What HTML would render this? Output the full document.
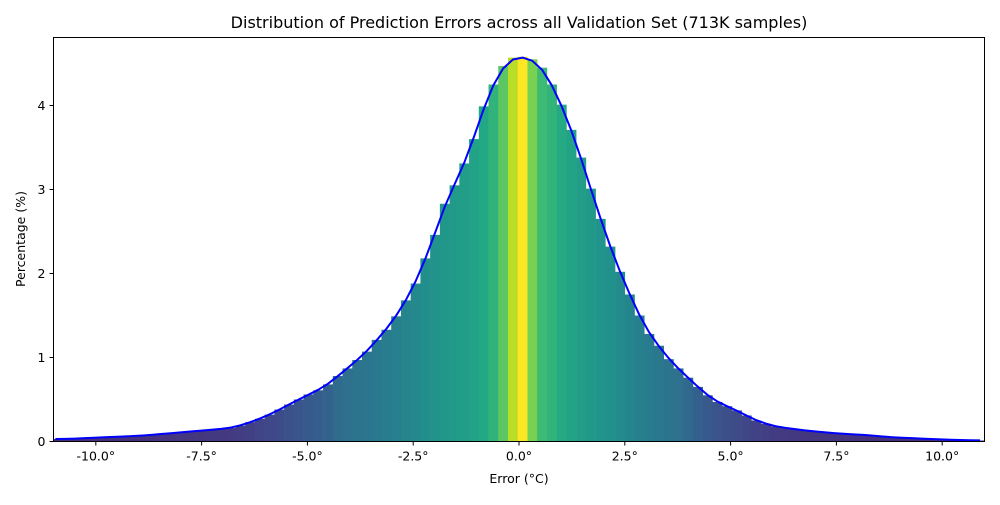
<!DOCTYPE html>
<html><head><meta charset="utf-8"><style>
body{margin:0;background:#fff;}
svg text{font-family:"DejaVu Sans","Liberation Sans",sans-serif;fill:#000;}
</style></head><body>
<svg id="chart" width="1000" height="500" viewBox="0 0 1000 500" xmlns="http://www.w3.org/2000/svg">
<rect width="1000" height="500" fill="#fff"/>
<text x="519" y="28" font-size="16" text-anchor="middle">Distribution of Prediction Errors across all Validation Set (713K samples)</text>
<g id="bars"></g>
<g id="line"></g>
<rect x="53.5" y="37.5" width="931" height="404" fill="none" stroke="#000" stroke-width="1"/>
<g id="xt"></g>
<g id="yt"></g>
<text x="519" y="483" font-size="12.5" text-anchor="middle">Error (°C)</text>
<text x="25" y="239" font-size="12.5" text-anchor="middle" transform="rotate(-90 25 239)">Percentage (%)</text>
</svg>
<script>
const binStart = -0.03;
const binWidth = 0.23;
const firstBinIndex = -48;
const heights = [0.03,0.03,0.035,0.04,0.045,0.05,0.055,0.06,0.065,0.07,0.08,0.09,0.1,0.11,0.12,0.13,0.14,0.15,0.16,0.19,0.23,0.27,0.32,0.38,0.44,0.5,0.56,0.61,0.68,0.78,0.87,0.97,1.07,1.21,1.33,1.49,1.68,1.88,2.18,2.46,2.83,3.05,3.31,3.6,3.99,4.25,4.47,4.57,
4.58,4.55,4.45,4.25,4.01,3.71,3.38,3.01,2.65,2.32,2.02,1.75,1.5,1.28,1.14,0.98,0.87,0.76,0.65,0.55,0.47,0.42,0.37,0.31,0.25,0.21,0.18,0.16,0.15,0.13,0.12,0.11,0.1,0.09,0.085,0.08,0.07,0.06,0.05,0.045,0.04,0.035,0.03,0.025,0.02,0.018,0.015,0.012];
const xTicks = [-10,-7.5,-5,-2.5,0,2.5,5,7.5,10];
const xTickLabels = ["-10.0°","-7.5°","-5.0°","-2.5°","0.0°","2.5°","5.0°","7.5°","10.0°"];
const yTicks = [0,1,2,3,4];

const X0=53.5,X1=984.5,Y0=441.5,Y1=37.5, xmin=-11, xmax=11, ymax=(441-37)/84;
const sx=v=>X0+(v-xmin)/(xmax-xmin)*(X1-X0);
const sy=v=>Y0-v/ymax*(Y0-Y1);
const NS="http://www.w3.org/2000/svg";
const vir=["#440154","#482475","#414487","#355f8d","#2a788e","#21918c","#22a884","#44bf70","#7ad151","#bddf26","#fde725"];
function hex(c){return [1,3,5].map(i=>parseInt(c.substr(i,2),16));}
function viridis(t){t=Math.max(0,Math.min(1,t));const p=t*10,i=Math.min(9,Math.floor(p)),f=p-i;const a=hex(vir[i]),b=hex(vir[i+1]);return "rgb("+a.map((v,k)=>Math.round(v+(b[k]-v)*f)).join(",")+")";}
const kn=[[0,0.12],[0.02,0.15],[0.2,0.38],[0.5,0.5],[0.72,0.55],[0.87,0.6],[0.93,0.65],[0.972,0.68],[0.977,0.76],[0.994,0.8],[0.998,0.9],[1,1]];
function tmap(r){for(let i=1;i<kn.length;i++){if(r<=kn[i][0]){const a=kn[i-1],b=kn[i];return a[1]+(b[1]-a[1])*(r-a[0])/(b[0]-a[0]);}}return 1;}
const hmax=Math.max(...heights);
const clip=document.createElementNS(NS,"clipPath");clip.setAttribute("id","pc");
const cr=document.createElementNS(NS,"rect");cr.setAttribute("x",X0);cr.setAttribute("y",Y1);cr.setAttribute("width",X1-X0);cr.setAttribute("height",Y0-Y1);clip.appendChild(cr);
document.getElementById("chart").appendChild(clip);
const bg=document.getElementById("bars");bg.setAttribute("clip-path","url(#pc)");
heights.forEach((h,i)=>{
  const e=binStart+(firstBinIndex+i)*binWidth;
  const r=document.createElementNS(NS,"rect");
  
  
  r.setAttribute("x",sx(e));r.setAttribute("width",sx(e+binWidth)-sx(e)+0.3);
  r.setAttribute("y",sy(h));r.setAttribute("height",Y0-sy(h));
  r.setAttribute("fill",viridis(tmap(h/hmax)));
  bg.appendChild(r);
});
const pts=heights.map((h,i)=>{const a=heights[Math.max(0,i-1)],b=heights[Math.min(heights.length-1,i+1)];return [binStart+(firstBinIndex+i+0.5)*binWidth,(a+2*h+b)/4];});
let d="";pts.forEach((p,i)=>{d+=(i?"L":"M")+sx(p[0]).toFixed(1)+","+sy(p[1]).toFixed(1);});
const pl=document.createElementNS(NS,"path");


pl.setAttribute("d",d);pl.setAttribute("fill","none");pl.setAttribute("stroke","#0000ff");pl.setAttribute("stroke-width","2");pl.setAttribute("stroke-linejoin","round");pl.setAttribute("clip-path","url(#pc)");
document.getElementById("line").appendChild(pl);
const xt=document.getElementById("xt");
xTicks.forEach((v,i)=>{
  const l=document.createElementNS(NS,"line");
  
  
  l.setAttribute("x1",sx(v));l.setAttribute("x2",sx(v));l.setAttribute("y1",Y0);l.setAttribute("y2",Y0+4);l.setAttribute("stroke","#000");xt.appendChild(l);
  const t=document.createElementNS(NS,"text");
  
  
  t.setAttribute("x",sx(v));t.setAttribute("y",Y0+19);t.setAttribute("font-size","12.5");t.setAttribute("text-anchor","middle");t.textContent=xTickLabels[i];xt.appendChild(t);
});
const yt=document.getElementById("yt");
yTicks.forEach(v=>{
  const l=document.createElementNS(NS,"line");
  
  
  l.setAttribute("x1",X0-4);l.setAttribute("x2",X0);l.setAttribute("y1",sy(v));l.setAttribute("y2",sy(v));l.setAttribute("stroke","#000");yt.appendChild(l);
  const t=document.createElementNS(NS,"text");
  
  
  t.setAttribute("x",X0-8);t.setAttribute("y",sy(v)+4.5);t.setAttribute("font-size","12.5");t.setAttribute("text-anchor","end");t.textContent=String(v);yt.appendChild(t);
});
</script>
</body></html>
